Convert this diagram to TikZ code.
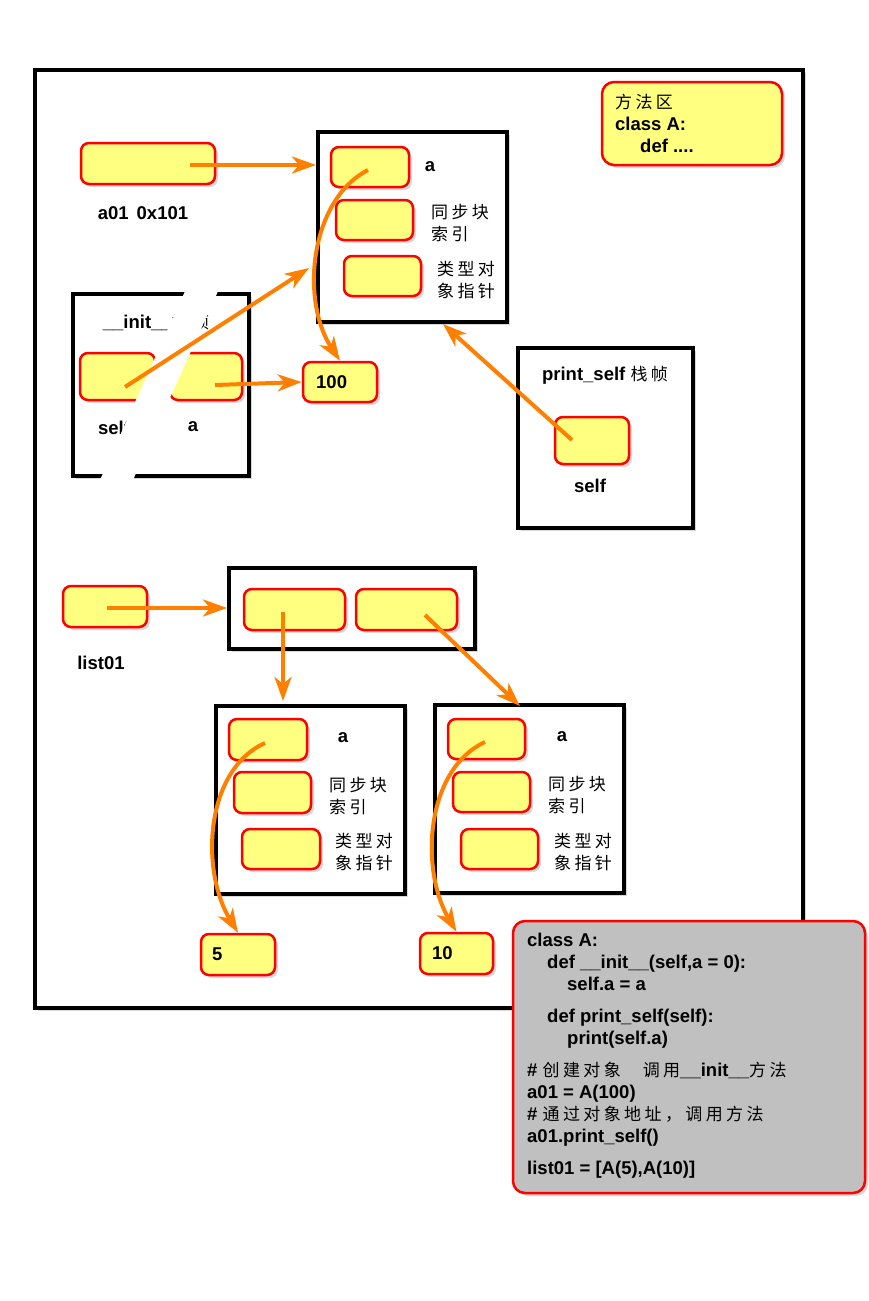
\documentclass[tikz,border=0pt]{standalone}
\usepackage{fontspec}
\setmainfont{Liberation Sans}
\newfontfamily\cjk[LetterSpace=20]{Noto Sans CJK SC}
\usetikzlibrary{arrows.meta,shadows,calc}
\definecolor{cellyellow}{RGB}{255,255,128}
\definecolor{cellred}{RGB}{255,0,0}
\definecolor{arroworange}{RGB}{255,128,0}
\definecolor{codegray}{RGB}{192,192,192}
\begin{document}
\begin{tikzpicture}[x=1pt,y=-1pt,
  objframe/.style={draw=black, line width=4pt, fill=white, inner sep=0pt, outer sep=0pt,
    drop shadow={shadow xshift=3pt, shadow yshift=-3pt, opacity=0.3}},
  cell/.style={draw=cellred, line width=2.5pt, fill=cellyellow, rounded corners=8pt, inner sep=0pt,
    drop shadow={shadow xshift=3pt, shadow yshift=-3pt, opacity=0.3}},
  codebox/.style={draw=cellred, line width=2.5pt, fill=codegray, rounded corners=12pt, inner sep=0pt,
    drop shadow={shadow xshift=3pt, shadow yshift=-3pt, opacity=0.3}},
  lbl/.style={font=\fontsize{18.5}{22}\selectfont\bfseries, inner sep=0pt},
  zh/.style={font=\fontsize{17}{22}\selectfont\cjk, inner sep=0pt, align=left},
  codetext/.style={font=\fontsize{18.5}{22}\selectfont\bfseries, inner sep=0pt, align=left},
  ptr/.style={draw=arroworange, line width=4pt, -{Stealth[length=24pt,width=17pt,inset=7pt]}}
]
\useasboundingbox (0,0) rectangle (868,1301);
\fill[white] (0,0) rectangle (868,1301);

% outer frame
\node[objframe, minimum width=768pt, minimum height=938pt] (outer) at (419,539) {};

% method area
\node[cell, rounded corners=12pt, minimum width=180pt, minimum height=83pt] (method) at (692,123.5) {};
\node[codetext, anchor=north west] (methodtxt) at (615,94) {{\cjk\mdseries\fontsize{17}{22}\selectfont 方法区}\\class A:\\\hspace*{25pt}def ....};

% a01
\node[cell, minimum width=134pt, minimum height=41pt] (a01) at (148,163.5) {};
\node[lbl] (a01lbl) at (143,213) {a01\hspace{8pt}0x101};

% object 1
\node[objframe, minimum width=189pt, minimum height=190pt] (obj1) at (412.5,227) {};
\node[cell, minimum width=78pt, minimum height=40pt] (o1a) at (370,167) {};
\node[cell, minimum width=77pt, minimum height=40pt] (o1s) at (374.5,220) {};
\node[cell, minimum width=77pt, minimum height=40pt] (o1t) at (382.5,276) {};
\node[lbl] (o1alab) at (430,167) {a};
\node[zh, anchor=west] (o1slab) at (431,223) {同步块\\索引};
\node[zh, anchor=west] (o1tlab) at (437,280) {类型对\\象指针};

% __init__ frame
\node[objframe, minimum width=176pt, minimum height=182pt] (initf) at (161,385) {};
\node[lbl] (inittitle) at (156,322) {\_\_init\_\_{\cjk\mdseries\fontsize{17}{22}\selectfont 栈帧}};
\node[cell, minimum width=75pt, minimum height=47pt] (iself) at (117.5,376.5) {};
\node[cell, minimum width=72pt, minimum height=47pt] (ia) at (206,376.5) {};
\node[lbl] (iselflab) at (114,428) {self};
\node[lbl] (ialab) at (193,427) {a};
\fill[white] (186,289) -- (219,289) -- (128,491) -- (95,491) -- cycle;

% 100
\node[cell, minimum width=74pt, minimum height=40pt] (v100) at (340,382) {};
\node[lbl, anchor=west] (v100lab) at (316,382) {100};

% print_self frame
\node[objframe, minimum width=175pt, minimum height=180pt] (pframe) at (605.5,438) {};
\node[lbl] (ptitle) at (605,375) {print\_self {\cjk\mdseries\fontsize{17}{22}\selectfont 栈帧}};
\node[cell, minimum width=74pt, minimum height=47pt] (pself) at (592,440.5) {};
\node[lbl] (pselflab) at (590,486) {self};

% list01
\node[cell, minimum width=84pt, minimum height=41pt] (list01) at (105,606.5) {};
\node[lbl] (list01lab) at (101,663) {list01};
\node[objframe, minimum width=246pt, minimum height=81pt] (lbox) at (352,608.5) {};
\node[cell, minimum width=101pt, minimum height=41pt] (l1) at (294.5,609.5) {};
\node[cell, minimum width=101pt, minimum height=41pt] (l2) at (406.5,609.5) {};

% object 2
\node[objframe, minimum width=189pt, minimum height=188pt] (obj2) at (310.5,800) {};
\node[cell, minimum width=78pt, minimum height=41pt] (o2a) at (268,739.5) {};
\node[cell, minimum width=77pt, minimum height=41pt] (o2s) at (272.5,792.5) {};
\node[cell, minimum width=78pt, minimum height=40pt] (o2t) at (281,849) {};
\node[lbl] (o2alab) at (343,738) {a};
\node[zh, anchor=west] (o2slab) at (329,796) {同步块\\索引};
\node[zh, anchor=west] (o2tlab) at (335,852) {类型对\\象指针};

% object 3
\node[objframe, minimum width=189pt, minimum height=188pt] (obj3) at (529.5,799) {};
\node[cell, minimum width=77pt, minimum height=40pt] (o3a) at (486.5,739) {};
\node[cell, minimum width=77pt, minimum height=40pt] (o3s) at (491.5,792) {};
\node[cell, minimum width=77pt, minimum height=40pt] (o3t) at (499.5,849) {};
\node[lbl] (o3alab) at (562,737) {a};
\node[zh, anchor=west] (o3slab) at (548,795) {同步块\\索引};
\node[zh, anchor=west] (o3tlab) at (554,852) {类型对\\象指针};

% values
\node[cell, minimum width=74pt, minimum height=41pt] (v5) at (238,954.5) {};
\node[lbl, anchor=west] (v5lab) at (212,954) {5};
\node[cell, minimum width=73pt, minimum height=41pt] (v10) at (456.5,953.5) {};
\node[lbl, anchor=west] (v10lab) at (432,953) {10};

% arrows
\coordinate (p1) at (190,165);
\draw[ptr, shorten >=2pt] (p1) -- (p1 -| obj1.west);
\coordinate (p2) at (368,170);
\draw[ptr] (p2) .. controls (310,200) and (300,300) .. (v100.north);
\coordinate (p3) at (125,387);
\coordinate (t3) at (309,268);
\draw[ptr] (p3) -- (t3);
\coordinate (p4) at (215,385);
\draw[ptr] (p4) -- (v100.west);
\coordinate (p5) at (572,440);
\coordinate (t5) at (443,324);
\draw[ptr] (p5) -- (t5);
\coordinate (p6) at (107,608);
\draw[ptr, shorten >=2pt] (p6) -- (p6 -| lbox.west);
\coordinate (p7) at (283,612);
\draw[ptr, shorten >=5pt] (p7) -- (p7 |- obj2.north);
\coordinate (p8) at (425,615);
\coordinate (t8) at (520,706);
\draw[ptr] (p8) -- (t8);
\coordinate (p9) at (265,743);
\draw[ptr] (p9) .. controls (205,770) and (200,870) .. (v5.north);
\coordinate (p10) at (485,742);
\draw[ptr] (p10) .. controls (425,770) and (420,870) .. (v10.north);

% code box
\node[codebox, minimum width=352pt, minimum height=272pt] (code) at (689,1057) {};
\node[codetext, anchor=north west] (codetxt) at (527,933) {class A:\\
\hspace*{20pt}def \_\_init\_\_(self,a = 0):\\
\hspace*{40pt}self.a = a\\[10pt]
\hspace*{20pt}def print\_self(self):\\
\hspace*{40pt}print(self.a)\\[10pt]
\# {\cjk\mdseries\fontsize{17}{22}\selectfont 创建对象}\hspace{22pt}{\cjk\mdseries\fontsize{17}{22}\selectfont 调用}\_\_init\_\_{\cjk\mdseries\fontsize{17}{22}\selectfont 方法}\\
a01 = A(100)\\
\# {\cjk\mdseries\fontsize{17}{22}\selectfont 通过对象地址，调用方法}\\
a01.print\_self()\\[10pt]
list01 = [A(5),A(10)]};
\end{tikzpicture}
\end{document}
